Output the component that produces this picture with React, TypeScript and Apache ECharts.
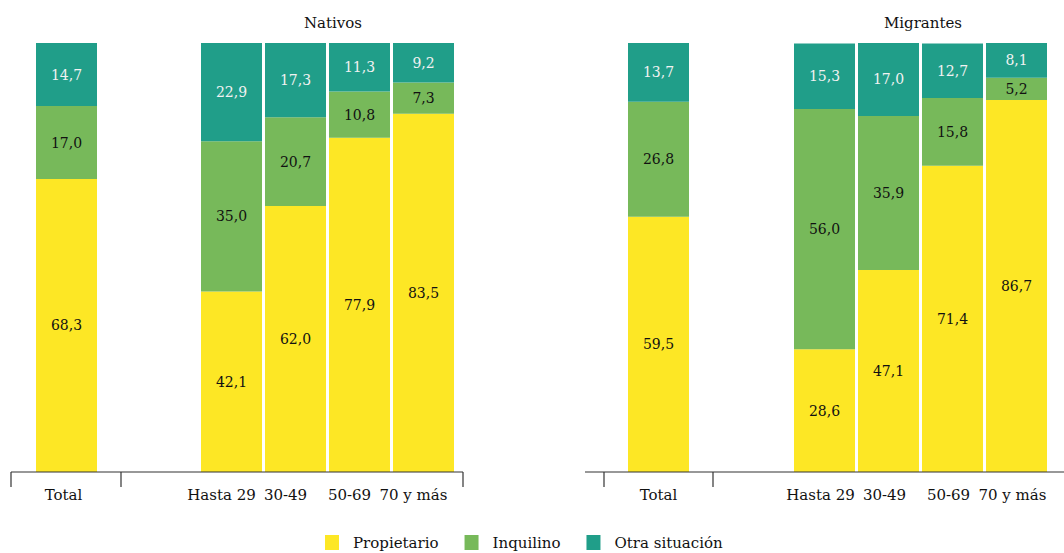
import React, { useEffect, useRef } from "react";
import * as echarts from "echarts";

const FONT = "DejaVu Serif";

const totalCategory = ["Total"];
const ageCategories = ["Hasta 29", "30-49", "50-69", "70 y más"];
const seriesNames = ["Propietario", "Inquilino", "Otra situación"];
const colors = ["#FDE725", "#77B95A", "#209E89"];
const labelColors = ["#111111", "#111111", "#F2F2F2"];
const panelTitles = ["Nativos", "Migrantes"];

const nativosTotal = [68.3, 17.0, 14.7];
const migrantesTotal = [59.5, 26.8, 13.7];

const nativosPropietario = [42.1, 62.0, 77.9, 83.5];
const nativosInquilino = [35.0, 20.7, 10.8, 7.3];
const nativosOtra = [22.9, 17.3, 11.3, 9.2];

const migrantesPropietario = [28.6, 47.1, 71.4, 86.7];
const migrantesInquilino = [56.0, 35.9, 15.8, 5.2];
const migrantesOtra = [15.3, 17.0, 12.7, 8.1];

const BASE_Y = 472;
const TOP = 43;

export default function App() {
  const ref = useRef<HTMLDivElement>(null);

  useEffect(() => {
    if (!ref.current) return;
    const chart = echarts.init(ref.current, null, { renderer: "svg" });

    const grids = [
      { left: 11.5, width: 110 },
      { left: 199.5, width: 256 },
      { left: 604, width: 109 },
      { left: 792.5, width: 256 },
    ].map((g) => ({ ...g, top: TOP, height: BASE_Y - TOP }));

    const labelShift = [6, 20, 0, 8];
    const xAxes = [totalCategory, ageCategories, totalCategory, ageCategories].map((cats, i) => ({
      type: "category",
      gridIndex: i,
      data: cats,
      axisLine: { show: false },
      axisTick: { show: false },
      axisLabel: {
        interval: 0,
        margin: 15,
        fontSize: 15,
        fontFamily: FONT,
        color: "#111",
        padding: [0, labelShift[i], 0, 0],
      },
    }));

    const yAxes = grids.map((_, i) => ({
      type: "value",
      gridIndex: i,
      min: 0,
      max: 100,
      show: false,
    }));

    const fmt = (p: any) => Number(p.value).toFixed(1).replace(".", ",");

    const panelData: number[][][] = [
      [[nativosTotal[0]], [nativosTotal[1]], [nativosTotal[2]]],
      [nativosPropietario, nativosInquilino, nativosOtra],
      [[migrantesTotal[0]], [migrantesTotal[1]], [migrantesTotal[2]]],
      [migrantesPropietario, migrantesInquilino, migrantesOtra],
    ];

    const series: any[] = [];
    panelData.forEach((sets, gi) => {
      sets.forEach((vals, si) => {
        series.push({
          type: "bar",
          name: seriesNames[si],
          xAxisIndex: gi,
          yAxisIndex: gi,
          stack: "s" + gi,
          data: vals,
          barWidth: 61,
          itemStyle: { color: colors[si] },
          label: {
            show: true,
            position: "inside",
            formatter: fmt,
            fontSize: 14,
            fontFamily: FONT,
            color: labelColors[si],
          },
        });
      });
    });

    const lineStyle = { stroke: "#333", lineWidth: 1.2 };
    const hline = (x1: number, x2: number) => ({
      type: "line",
      shape: { x1, y1: BASE_Y, x2, y2: BASE_Y },
      style: lineStyle,
      z: 100,
    });
    const tick = (x: number) => ({
      type: "line",
      shape: { x1: x, y1: BASE_Y, x2: x, y2: BASE_Y + 15 },
      style: lineStyle,
      z: 100,
    });

    const legendTextWidths = [84, 90, 111];

    chart.setOption({
      animation: false,
      textStyle: { fontFamily: FONT },
      title: [
        {
          text: panelTitles[0],
          left: 328,
          top: 10,
          textAlign: "center",
          textStyle: { fontSize: 15, fontWeight: "normal", fontFamily: FONT, color: "#111" },
        },
        {
          text: panelTitles[1],
          left: 918,
          top: 10,
          textAlign: "center",
          textStyle: { fontSize: 15, fontWeight: "normal", fontFamily: FONT, color: "#111" },
        },
      ],
      legend: {
        data: seriesNames.map((name, i) => ({
          name,
          textStyle: { width: legendTextWidths[i] },
        })),
        left: 320,
        top: 530,
        icon: "rect",
        itemWidth: 14,
        itemHeight: 15,
        itemGap: 26,
        textStyle: { fontSize: 15, fontFamily: FONT, color: "#111", padding: [0, 0, 0, 9] },
      },
      grid: grids,
      xAxis: xAxes,
      yAxis: yAxes,
      series,
      graphic: [
        hline(11, 463),
        tick(11),
        tick(121),
        tick(463),
        hline(585, 1064),
        tick(604),
        tick(713),
      ],
    });

    return () => chart.dispose();
  }, []);

  return (
    <div
      ref={ref}
      style={{ position: "fixed", left: 0, top: 0, width: 1064, height: 553, background: "#fff" }}
    />
  );
}
